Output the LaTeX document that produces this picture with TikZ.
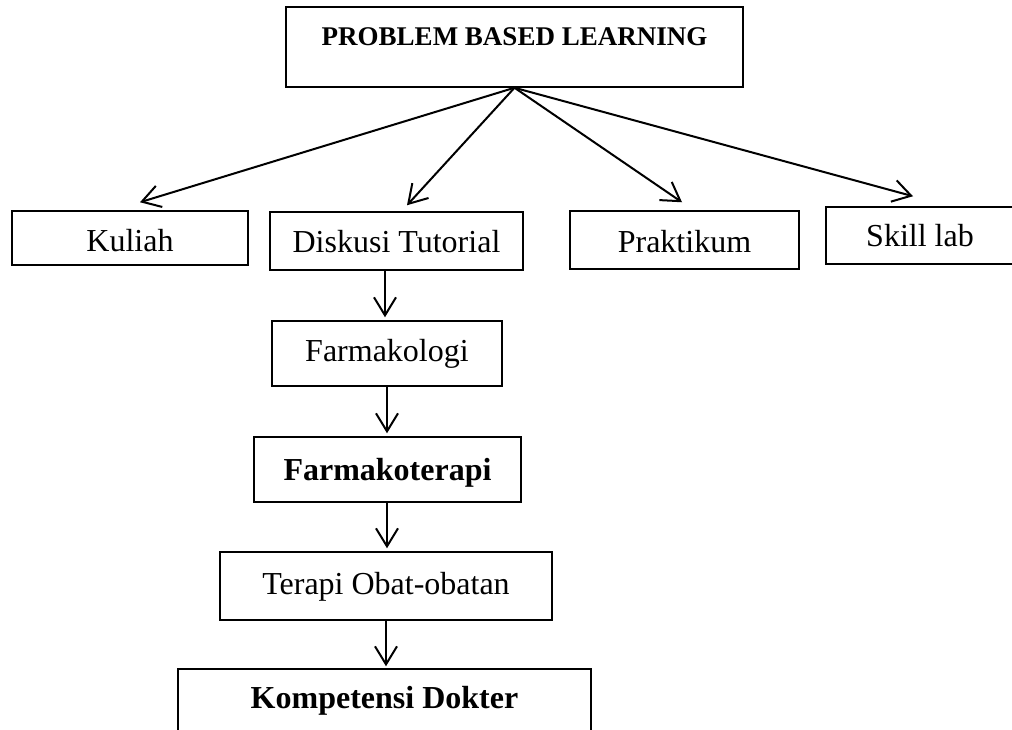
\documentclass[tikz,border=0pt]{standalone}
\usepackage{fontspec}
\setmainfont{Liberation Serif}
\usetikzlibrary{arrows.meta}
\begin{document}
\begin{tikzpicture}[x=1pt,y=-1pt,
  box/.style={draw, line width=1.5pt, inner sep=0pt, text depth=0pt, font=\fontsize{32}{36}\selectfont},
  bbox/.style={box, font=\fontsize{32}{36}\selectfont\bfseries},
  arr/.style={line width=2pt, -{Straight Barb[length=18pt,width=22pt]}}]
\useasboundingbox (0,0) rectangle (1012,729);
\clip (0,0) rectangle (1012,729);
\node[box, font=\fontsize{27}{30}\selectfont\bfseries, minimum width=457, minimum height=80, text height=0pt, text depth=4pt] (pbl) at (514.5,47) {PROBLEM BASED LEARNING};
\node[box, minimum width=236, minimum height=54, text height=26pt] (kul) at (130,238) {Kuliah};
\node[box, minimum width=253, minimum height=58, text height=22pt] (dis) at (396.5,241) {Diskusi Tutorial};
\node[box, minimum width=229, minimum height=58, text height=24pt] (pra) at (684.5,240) {Praktikum};
\node[box, minimum width=188, minimum height=57, text height=22pt] (ski) at (920,235.5) {Skill lab};
\node[box, minimum width=230, minimum height=65, text height=15pt] (fkl) at (387,353.5) {Farmakologi};
\node[bbox, minimum width=267, minimum height=65, text height=22pt] (fkt) at (387.5,469.5) {Farmakoterapi};
\node[box, minimum width=332, minimum height=68, text height=16pt] (tob) at (386,586) {Terapi Obat-obatan};
\node[bbox, minimum width=413, minimum height=76, text height=2pt] (kom) at (384.5,707) {Kompetensi Dokter};
\draw[arr] (pbl.south) -- ([xshift=10pt,yshift=8pt]kul.north);
\draw[arr] (pbl.south) -- ([xshift=10.5pt,yshift=6pt]dis.north);
\draw[arr] (pbl.south) -- ([xshift=-2.5pt,yshift=8pt]pra.north);
\draw[arr] (pbl.south) -- ([xshift=-7pt,yshift=10pt]ski.north);
\draw[arr] ([xshift=-11.5pt]dis.south) -- ([xshift=-2pt,yshift=3pt]fkl.north);
\draw[arr] (fkl.south) -- ([yshift=3pt]fkl.south |- fkt.north);
\draw[arr] ([xshift=-0.5pt]fkt.south) -- ([xshift=1pt,yshift=3pt]tob.north);
\draw[arr] (tob.south) -- ([xshift=1.5pt,yshift=2pt]kom.north);
\end{tikzpicture}
\end{document}
